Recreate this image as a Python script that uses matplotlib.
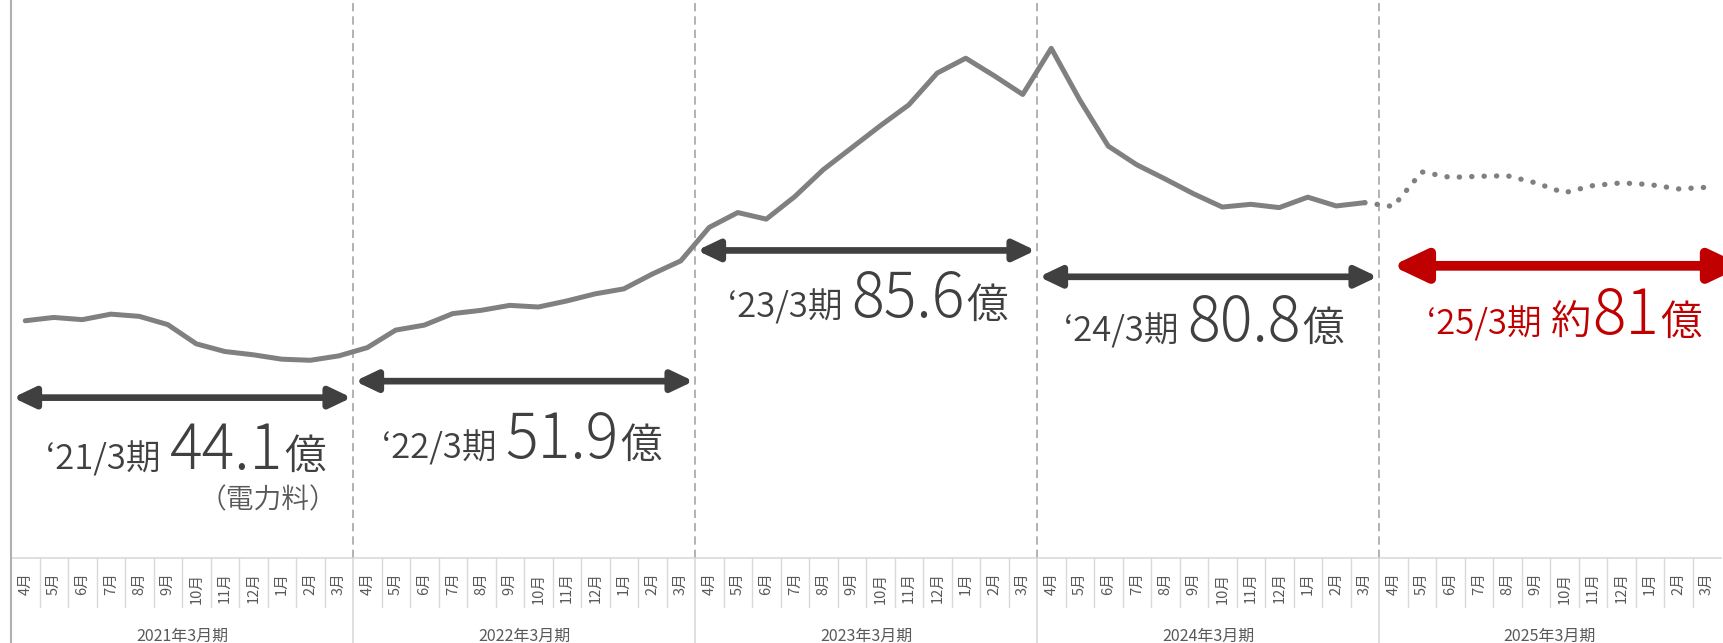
import matplotlib
matplotlib.use("Agg")
import matplotlib.pyplot as plt
from matplotlib.offsetbox import TextArea, HPacker, AnnotationBbox
from matplotlib.patches import FancyArrowPatch

plt.rcParams['font.family'] = ['Noto Sans CJK JP', 'DejaVu Sans']

# monthly electricity cost (百万円), Apr 2020 .. Mar 2024 actual
actual = [432, 438, 434, 444, 440, 425, 390, 376, 370, 362, 360, 368,
          383, 415, 424, 445, 451, 460, 457, 468, 481, 490, 517, 541,
          602, 629, 617, 658, 707, 747, 787, 825, 883, 910, 878, 844,
          928, 834, 750, 716, 690, 663, 639, 644, 638, 657, 641, 647]
# forecast Apr 2024 .. Mar 2025
forecast = [640, 703, 693, 695, 696, 683, 665, 678, 683, 680, 672, 675]

months = ["4月", "5月", "6月", "7月", "8月", "9月", "10月", "11月", "12月", "1月", "2月", "3月"]
periods = ["2021年3月期", "2022年3月期", "2023年3月期", "2024年3月期", "2025年3月期"]
period_tags = ["‘21/3期", "‘22/3期", "‘23/3期", "‘24/3期", "‘25/3期"]
totals = ["44.1", "51.9", "85.6", "80.8", "81"]

arrow_y = [292, 322, 560, 512, 532]
text_xy = [(5.64, 193), (17.43, 213), (29.57, 469), (41.36, 426), (54.0, 438)]

DARK = "#404040"
RED = "#C00000"
LINE = "#808080"
GRID = "#d9d9d9"

fig = plt.figure(figsize=(17.24, 6.43), dpi=100)
ax = fig.add_axes([11 / 1724, 85 / 643, 1710 / 1724, 558 / 643])
ax.set_xlim(-0.5, 59.5)
ax.set_ylim(0, 1016)
ax.axis("off")

n_act = len(actual)
ax.plot(range(n_act), actual, color=LINE, lw=3.6, solid_capstyle="round", zorder=3)
fx = list(range(n_act - 1, n_act + len(forecast)))
ax.plot(fx, [actual[-1]] + forecast, color=LINE, lw=3.8,
        linestyle=(0, (0.05, 2.3)), dash_capstyle="round", zorder=3)

# category axis area
xt = ax.get_xaxis_transform()
ax.plot([-0.5, 59.5], [0, 0], transform=xt, color=GRID, lw=1.2, clip_on=False)
ax.plot([-0.5, -0.5], [1, -0.155], transform=xt, color="#b0b0b0", lw=1.5, clip_on=False)
n = len(periods) * 12
for i in range(1, n):
    xb = i - 0.5
    if i % 12 == 0:
        ax.plot([xb, xb], [0, 1], transform=xt, color="#a6a6a6", lw=1.2,
                linestyle=(0, (5, 3)), clip_on=False)
        ax.plot([xb, xb], [0, -0.155], transform=xt, color=GRID, lw=1.2, clip_on=False)
    else:
        ax.plot([xb, xb], [0, -0.088], transform=xt, color=GRID, lw=1.0, clip_on=False)

for i in range(n):
    ax.text(i, -0.026, months[i % 12], transform=xt, rotation=90, ha="center", va="top",
            fontsize=10.5, color="#595959")
for p, name in enumerate(periods):
    ax.text(12 * p + 5.5, -0.14, name, transform=xt, ha="center", va="center",
            fontsize=11.5, color="#595959")

# period arrows
for p in range(len(periods)):
    red = p == len(periods) - 1
    x0 = 12 * p - 0.5 + (0.46 if red else 0.07)
    x1 = 60.3 if red else 12 * p + 11.5 - 0.05
    style = ("<|-|>,head_length=2.0,head_width=0.95" if red
             else "<|-|>,head_length=1.3,head_width=0.62")
    arr = FancyArrowPatch((x0, arrow_y[p]), (x1, arrow_y[p]), arrowstyle=style,
                          mutation_scale=10, lw=7 if red else 4.8,
                          color=RED if red else DARK, shrinkA=0, shrinkB=0,
                          clip_on=False, zorder=4)
    ax.add_patch(arr)

# annotations
for p in range(len(periods)):
    red = p == len(periods) - 1
    col = RED if red else DARK
    parts = [TextArea(period_tags[p] + " ",
                      textprops=dict(fontsize=25, color=col, fontweight=350))]
    if red:
        parts.append(TextArea("約", textprops=dict(fontsize=29, color=col, fontweight=350)))
    parts.append(TextArea(totals[p], textprops=dict(fontsize=45 if red else 44, color=col,
                                                    fontweight="light")))
    parts.append(TextArea("億", textprops=dict(fontsize=30, color=col, fontweight=350)))
    box = HPacker(children=parts, align="baseline", pad=0, sep=1)
    ab = AnnotationBbox(box, text_xy[p], xycoords="data", box_alignment=(0.5, 0.5),
                        frameon=False, pad=0, annotation_clip=False)
    ax.add_artist(ab)

ax.text(10.95, 105, "（電力料）", ha="right", va="center", fontsize=20,
        fontweight=350, color="#595959")

fig.savefig("out.png", dpi=100)
